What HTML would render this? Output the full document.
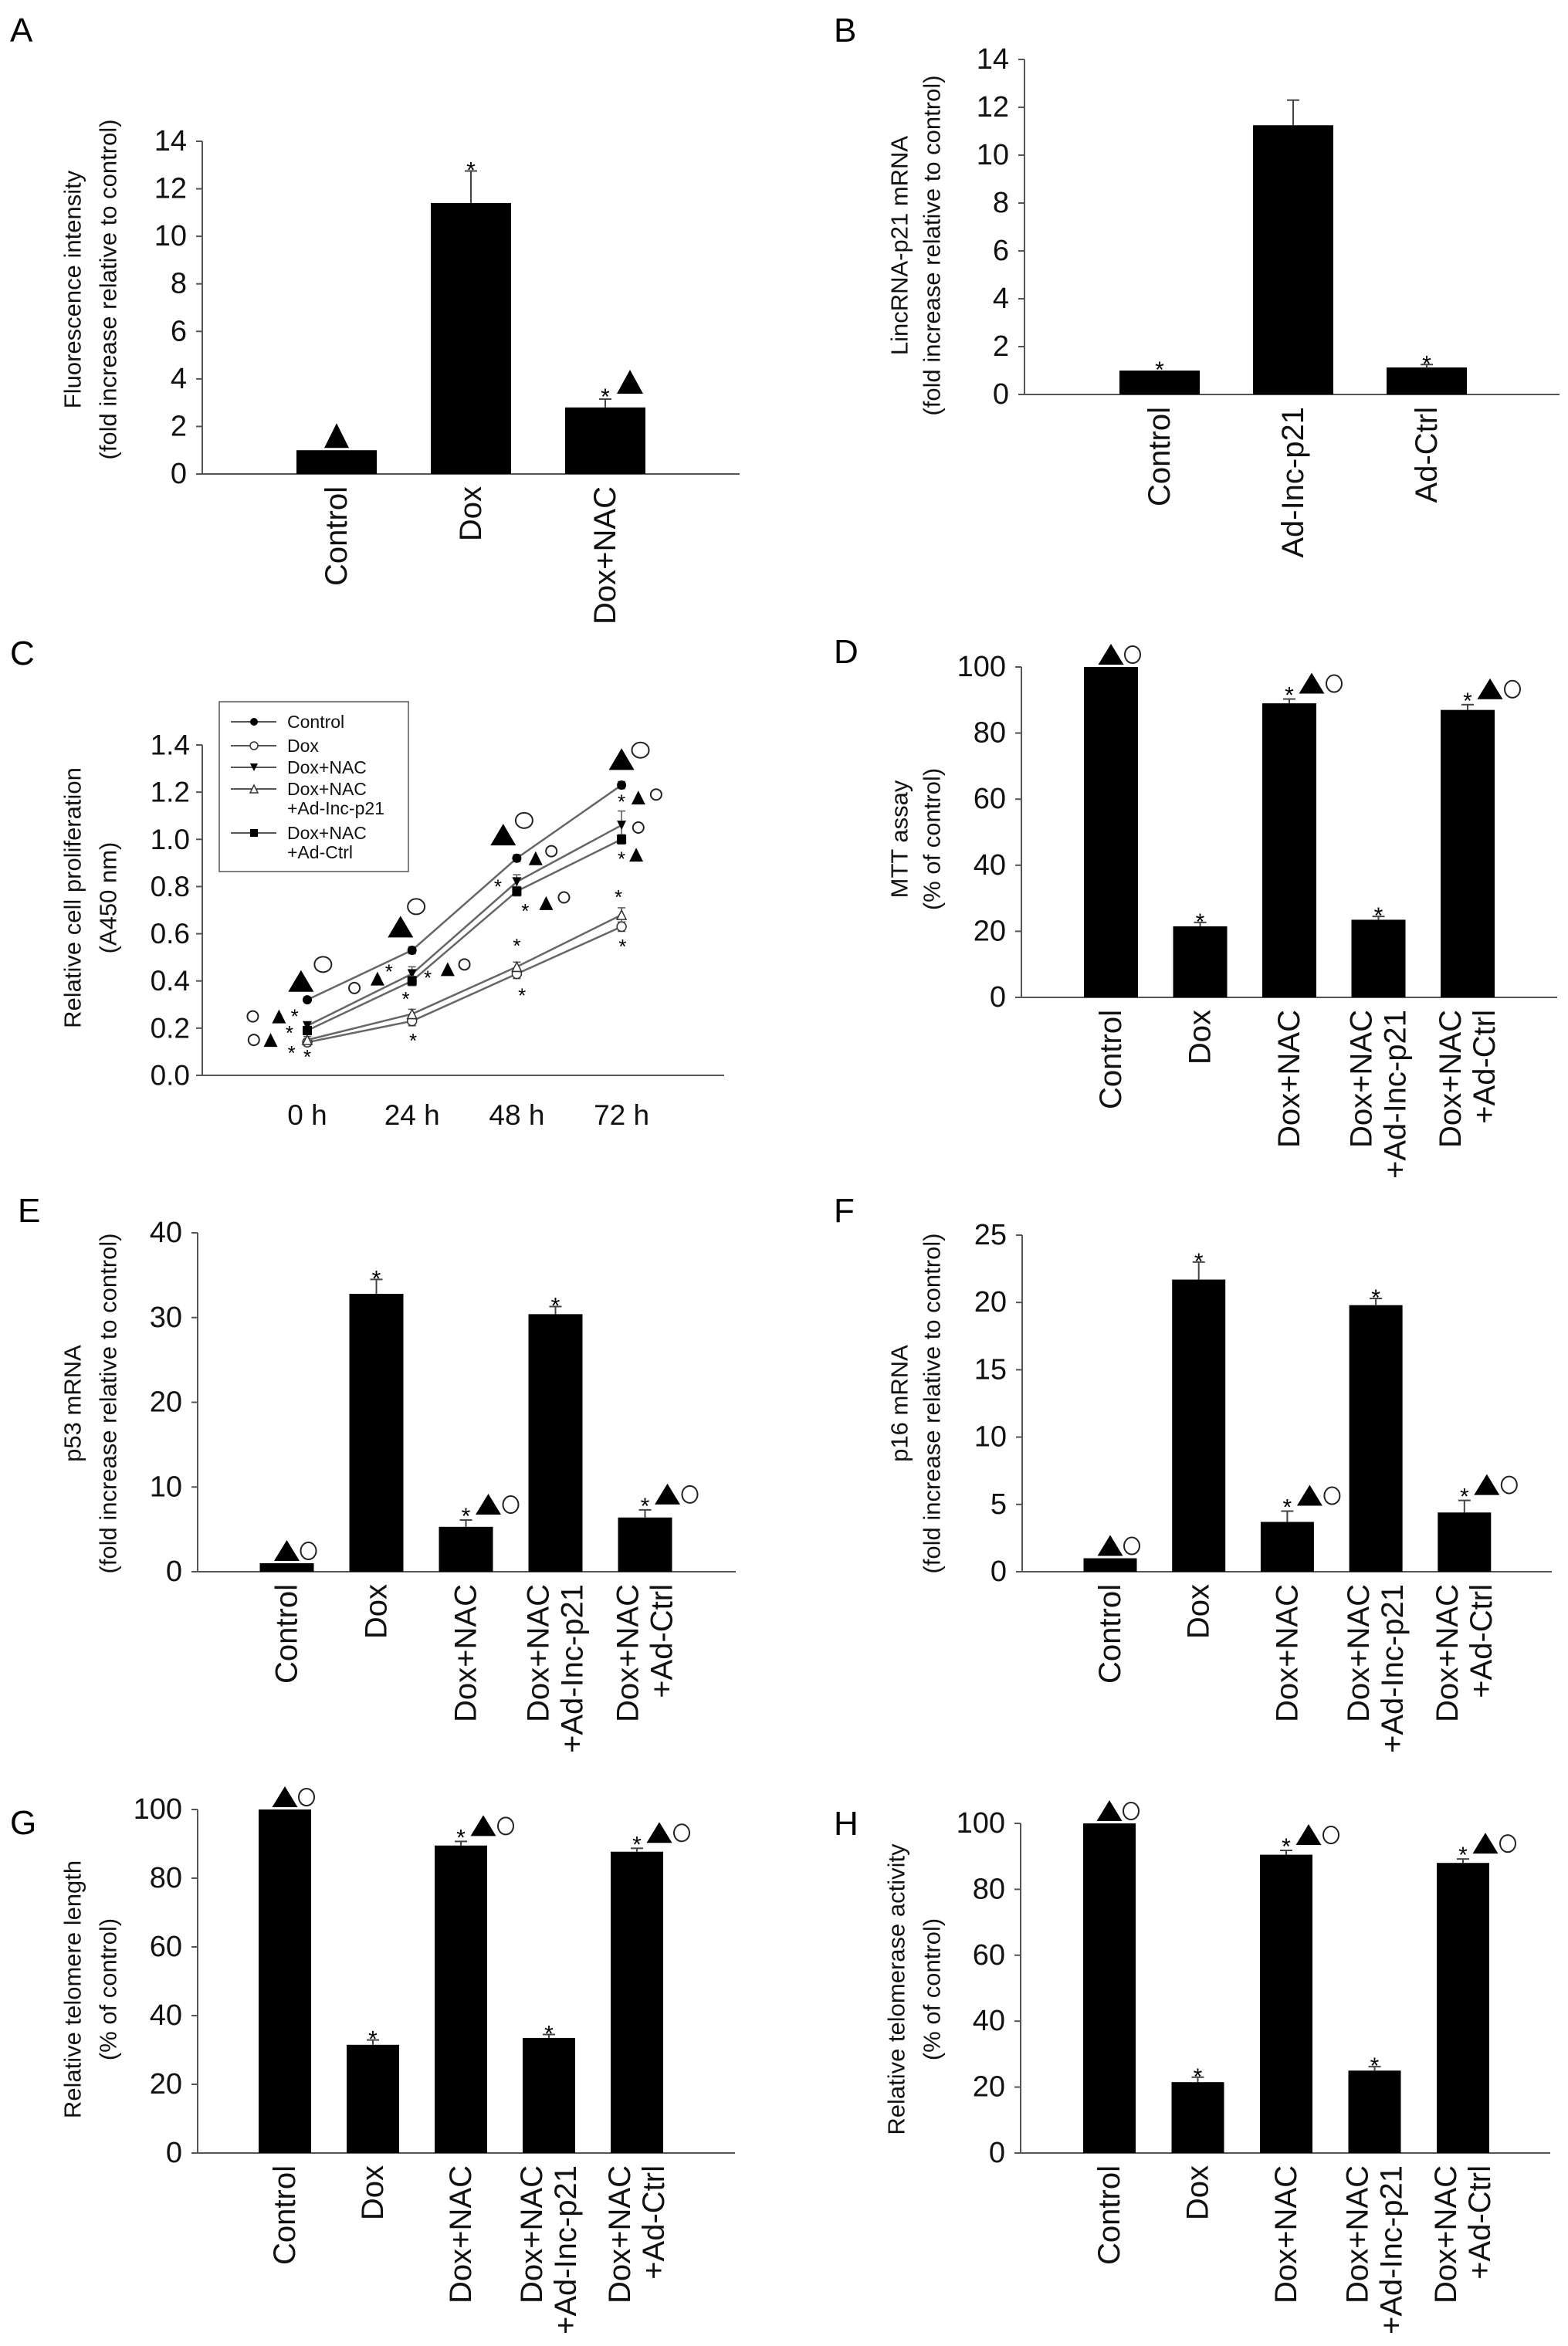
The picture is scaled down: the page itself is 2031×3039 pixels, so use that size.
<!DOCTYPE html>
<html><head><meta charset="utf-8">
<style>
html,body{margin:0;padding:0;background:#fff;}
svg{display:block;font-family:"Liberation Sans",Arial,sans-serif;}
</style></head>
<body>
<svg id="fig" width="2031" height="3039" viewBox="0 0 2031 3039" xmlns="http://www.w3.org/2000/svg">
<rect width="2031" height="3039" fill="#fff"/>
</svg>
<script>
// ---- Data ----
const catsA = ["Control","Dox","Dox+NAC"];
const valsA = [1.0, 11.4, 2.8];
const errA  = [0, 1.35, 0.35];
const annA  = ["T","*","*T"];

const catsB = ["Control","Ad-Inc-p21","Ad-Ctrl"];
const valsB = [1.0, 11.25, 1.13];
const errB  = [0, 1.05, 0.12];
const annB  = ["*","","*"];

const cats5 = [["Control"],["Dox"],["Dox+NAC"],["Dox+NAC","+Ad-Inc-p21"],["Dox+NAC","+Ad-Ctrl"]];
const valsD = [100, 21.5, 89, 23.5, 87];
const errD  = [0, 1.2, 1.3, 1.0, 1.6];
const valsE = [1.0, 32.8, 5.3, 30.4, 6.4];
const errE  = [0, 1.7, 0.8, 0.9, 0.9];
const valsF = [1.0, 21.7, 3.7, 19.8, 4.4];
const errF  = [0, 1.3, 0.8, 0.5, 0.9];
const valsG = [100, 31.5, 89.5, 33.5, 87.7];
const errG  = [0, 1.4, 1.2, 1.0, 1.0];
const valsH = [100, 21.5, 90.5, 25, 88];
const errH  = [0, 1.5, 1.3, 1.2, 1.2];
const ann5  = ["TO","*","*TO","*","*TO"];

// Panel C line chart data
const timeLabels = ["0 h","24 h","48 h","72 h"];
const seriesNames = ["Control","Dox","Dox+NAC","Dox+NAC|+Ad-Inc-p21","Dox+NAC|+Ad-Ctrl"];
const sControl = [0.32, 0.53, 0.92, 1.23];
const sDox     = [0.14, 0.23, 0.43, 0.63];
const sNAC     = [0.21, 0.43, 0.82, 1.06];
const sLnc     = [0.15, 0.26, 0.46, 0.68];
const sCtrl    = [0.19, 0.40, 0.78, 1.00];
const eControl = [0.01, 0.015, 0.015, 0.015];
const eDox     = [0.015, 0.02, 0.02, 0.02];
const eNAC     = [0.015, 0.03, 0.03, 0.06];
const eLnc     = [0.015, 0.02, 0.02, 0.03];
const eCtrl    = [0.015, 0.02, 0.02, 0.02];
const cTicks = [0.0,0.2,0.4,0.6,0.8,1.0,1.2,1.4];
const cAnnType = ["BT","BO","O","T","*","*","O","T","*","*",
  "BT","BO","O","T","*","*","T","O","*","*",
  "BT","BO","T","O","*","*","T","O","*","*",
  "BT","BO","*","T","O","O","*","T","*","*"];
const cAnnX = [-0.06,0.15,-0.52,-0.27,-0.12,-0.17,-0.51,-0.35,-0.15,0.0,
  0.89,1.04,0.45,0.67,0.78,1.15,1.34,1.5,0.94,1.01,
  1.87,2.07,2.18,2.33,1.82,2.08,2.28,2.45,2.0,2.05,
  3.0,3.18,3.0,3.16,3.33,3.16,3.0,3.14,2.97,3.01];
const cAnnY = [0.40,0.47,0.25,0.25,0.26,0.19,0.15,0.15,0.105,0.088,
  0.63,0.715,0.37,0.41,0.45,0.424,0.45,0.47,0.333,0.157,
  1.02,1.08,0.92,0.95,0.81,0.707,0.73,0.754,0.56,0.348,
  1.34,1.378,1.17,1.177,1.19,1.05,0.927,0.935,0.766,0.556];

// ---- Helpers ----
const NS="http://www.w3.org/2000/svg";
const svg=document.getElementById('fig');
function mk(tag,attrs,parent){const e=document.createElementNS(NS,tag);for(const k in attrs)e.setAttribute(k,attrs[k]);(parent||svg).appendChild(e);return e;}
function txt(s,attrs,parent){const e=mk('text',attrs,parent);e.textContent=s;return e;}

function tri(g,cx,bottom,w,h){
  const p=mk('polygon',{points:`${cx-w/2},${bottom} ${cx+w/2},${bottom} ${cx},${bottom-h}`,fill:'#000'},g);
  
  
}
function circ(g,cx,cy,rx,ry){
  const c=mk('ellipse',{cx:cx,cy:cy,rx:rx,ry:ry,fill:'none',stroke:'#222','stroke-width':2},g);
  
  
}
function star(g,x,y,size){
  const t=txt('*',{x:x,y:y,'font-size':size,'text-anchor':'middle',fill:'#000'},g);
  
  
}

function panelLetter(l,x,y){
  const t=txt(l,{x:x,y:y,'font-size':44,fill:'#000'});
  
  
}

function yTitle(g,lines,xs,cy){
  lines.forEach((s,i)=>{
    const t=txt(s,{x:xs[i],y:cy,'font-size':31,'text-anchor':'middle','dominant-baseline':'central',transform:`rotate(-90 ${xs[i]} ${cy})`,fill:'#111'},g);
    
    
  });
}

function barChart(name,c){
  const g=mk('g',{});
  
  
  const ys=v=>c.y0-(v/c.max)*(c.y0-c.ytop);
  const ya=mk('line',{x1:c.ax,y1:c.ytop,x2:c.ax,y2:c.y0,stroke:'#555','stroke-width':2},g);
  
  
  const xa=mk('line',{x1:c.ax,y1:c.y0,x2:c.right,y2:c.y0,stroke:'#555','stroke-width':2},g);
  
  
  for(let v=0; v<=c.max+1e-9; v+=c.step){
    const y=ys(v);
    mk('line',{x1:c.ax-8,y1:y,x2:c.ax,y2:y,stroke:'#555','stroke-width':2},g);
    const t=txt(String(v),{x:c.ax-20,y:y,'font-size':38,'text-anchor':'end','dominant-baseline':'central',fill:'#111'},g);
    
    
  }
  c.vals.forEach((v,i)=>{
    const cx=c.c0+i*c.sp;
    const top=ys(v);
    const r=mk('rect',{x:cx-c.bw/2,y:top,width:c.bw,height:c.y0-top,fill:'#000'},g);
    
    
    let et=top;
    if(c.errs[i]>0){
      et=ys(v+c.errs[i]);
      mk('line',{x1:cx,y1:top,x2:cx,y2:et,stroke:'#444','stroke-width':2},g);
      mk('line',{x1:cx-8,y1:et,x2:cx+8,y2:et,stroke:'#444','stroke-width':2},g);
    }
    const a=c.ann[i]||"";
    const base=et-3;
    if(a==="T"){tri(g,cx,base,32,32);}
    else if(a==="TO"){tri(g,cx,base,33,27);circ(g,cx+28,base-13,10,11);}
    else if(a==="*"){star(g,cx,base+12,30);}
    else if(a==="*T"){star(g,cx,base+10,30);tri(g,cx+32,base-4,34,31);}
    else if(a==="*TO"){star(g,cx,base+8,30);tri(g,cx+29,base-4,33,27);circ(g,cx+58,base-17,10,11);}
    const lab=c.cats[i];
    const lines=Array.isArray(lab)?lab:[lab];
    const n=lines.length;
    lines.forEach((s,j)=>{
      const lx=cx+(j-(n-1)/2)*44;
      const ly=c.y0+16;
      const t=txt(s,{x:lx,y:ly,'font-size':40,'text-anchor':'end','dominant-baseline':'central',transform:`rotate(-90 ${lx} ${ly})`,fill:'#111'},g);
      
      
    });
  });
  yTitle(g,c.titles,c.tx,c.ty);
}

// ---- Panels ----
panelLetter('A',13,54);
barChart('panel-a-fluorescence-chart',{ax:262,y0:614,ytop:183,max:14,step:2,right:958,c0:436,sp:174,bw:104,
  cats:catsA,vals:valsA,errs:errA,ann:annA,
  titles:["Fluorescence intensity","(fold increase relative to control)"],tx:[94,140],ty:375});

panelLetter('B',1080,54);
barChart('panel-b-lincrna-chart',{ax:1327,y0:511,ytop:77,max:14,step:2,right:2020,c0:1502,sp:173,bw:104,
  cats:catsB,vals:valsB,errs:errB,ann:annB,
  titles:["LincRNA-p21 mRNA","(fold increase relative to control)"],tx:[1165,1207],ty:318});

panelLetter('D',1080,859);
barChart('panel-d-mtt-chart',{ax:1323,y0:1292,ytop:864,max:100,step:20,right:2017,c0:1439,sp:115.5,bw:70,
  cats:cats5,vals:valsD,errs:errD,ann:ann5,
  titles:["MTT assay","(% of control)"],tx:[1165,1207],ty:1087});

panelLetter('E',23,1583);
barChart('panel-e-p53-chart',{ax:256,y0:2036,ytop:1597,max:40,step:10,right:953,c0:371.5,sp:116,bw:70,
  cats:cats5,vals:valsE,errs:errE,ann:ann5,
  titles:["p53 mRNA","(fold increase relative to control)"],tx:[94,140],ty:1818});

panelLetter('F',1080,1583);
barChart('panel-f-p16-chart',{ax:1324,y0:2036,ytop:1600,max:25,step:5,right:2010,c0:1438,sp:114.7,bw:69,
  cats:cats5,vals:valsF,errs:errF,ann:ann5,
  titles:["p16 mRNA","(fold increase relative to control)"],tx:[1165,1207],ty:1818});

panelLetter('G',13,2376);
barChart('panel-g-telomere-length-chart',{ax:256,y0:2789,ytop:2344,max:100,step:20,right:952,c0:369,sp:114,bw:68,
  cats:cats5,vals:valsG,errs:errG,ann:ann5,
  titles:["Relative telomere length","(% of control)"],tx:[94,140],ty:2577});

panelLetter('H',1080,2377);
barChart('panel-h-telomerase-chart',{ax:1322,y0:2789,ytop:2362,max:100,step:20,right:2008,c0:1437,sp:114.5,bw:68,
  cats:cats5,vals:valsH,errs:errH,ann:ann5,
  titles:["Relative telomerase activity","(% of control)"],tx:[1161,1207],ty:2577});

// ---- Panel C line chart ----
panelLetter('C',13,861);
(function(){
  const g=mk('g',{});
  
  
  const ax=262,y0=1393,ytop=965,right=938,x0=398,dx=135.7,vmax=1.4;
  const xs=i=>x0+i*dx;
  const ys=v=>y0-(v/vmax)*(y0-ytop);
  const ya=mk('line',{x1:ax,y1:ytop,x2:ax,y2:y0,stroke:'#555','stroke-width':2},g);
  
  
  const xa=mk('line',{x1:ax,y1:y0,x2:right,y2:y0,stroke:'#555','stroke-width':2},g);
  
  
  cTicks.forEach(v=>{
    const y=ys(v);
    mk('line',{x1:ax-8,y1:y,x2:ax,y2:y,stroke:'#555','stroke-width':2},g);
    const t=txt(v.toFixed(1),{x:ax-16,y:y,'font-size':37,'text-anchor':'end','dominant-baseline':'central',fill:'#111'},g);
    
    
  });
  timeLabels.forEach((s,i)=>{
    const t=txt(s,{x:xs(i),y:1457,'font-size':37,'text-anchor':'middle',fill:'#111'},g);
    
    
  });
  const series=[sControl,sDox,sNAC,sLnc,sCtrl];
  const errs=[eControl,eDox,eNAC,eLnc,eCtrl];
  const markers=["dot","odot","dtri","otri","sq"];
  function marker(parent,type,x,y,s){
    let m;
    if(type==="dot") m=mk('circle',{cx:x,cy:y,r:s,fill:'#000'},parent);
    else if(type==="odot") m=mk('circle',{cx:x,cy:y,r:s,fill:'#fff',stroke:'#333','stroke-width':1.5},parent);
    else if(type==="dtri") m=mk('polygon',{points:`${x-s},${y-s} ${x+s},${y-s} ${x},${y+s}`,fill:'#000'},parent);
    else if(type==="otri") m=mk('polygon',{points:`${x-s},${y+s} ${x+s},${y+s} ${x},${y-s}`,fill:'#fff',stroke:'#333','stroke-width':1.5},parent);
    else m=mk('rect',{x:x-s,y:y-s,width:2*s,height:2*s,fill:'#000'},parent);
    return m;
  }
  series.forEach((arr,k)=>{
    const pts=arr.map((v,i)=>`${xs(i)},${ys(v)}`).join(' ');
    const pl=mk('polyline',{points:pts,fill:'none',stroke:'#666','stroke-width':2.5},g);
    
    
    arr.forEach((v,i)=>{
      const e=errs[k][i];
      mk('line',{x1:xs(i),y1:ys(v-e),x2:xs(i),y2:ys(v+e),stroke:'#555','stroke-width':1.5},g);
      mk('line',{x1:xs(i)-5,y1:ys(v+e),x2:xs(i)+5,y2:ys(v+e),stroke:'#555','stroke-width':1.5},g);
      mk('line',{x1:xs(i)-5,y1:ys(v-e),x2:xs(i)+5,y2:ys(v-e),stroke:'#555','stroke-width':1.5},g);
      const m=marker(g,markers[k],xs(i),ys(v),6);
      
      
    });
  });
  cAnnType.forEach((tp,i)=>{
    const x=xs(cAnnX[i]), y=ys(cAnnY[i]);
    if(tp==="BT") tri(g,x,y+14,33,28);
    else if(tp==="BO") circ(g,x,y,11,10);
    else if(tp==="T") tri(g,x,y+9,18,18);
    else if(tp==="O") circ(g,x,y,7,7);
    else star(g,x,y+12,26);
  });
  const lg=mk('g',{},g);
  
  
  mk('rect',{x:284,y:909,width:245,height:220,fill:'#fff',stroke:'#555','stroke-width':1.5},lg);
  const rowY=[935,966,994,1022,1079];
  seriesNames.forEach((nm,k)=>{
    const y=rowY[k];
    const e=mk('g',{},lg);
    
    
    mk('line',{x1:299,y1:y,x2:358,y2:y,stroke:'#555','stroke-width':2},e);
    marker(e,markers[k],329,y,5);
    nm.split('|').forEach((s,j)=>{
      txt(s,{x:372,y:y+j*25,'font-size':23,'dominant-baseline':'central',fill:'#111'},e);
    });
  });
  yTitle(g,["Relative cell proliferation","(A450 nm)"],[94,140],1163);
})();
</script>
</body></html>
